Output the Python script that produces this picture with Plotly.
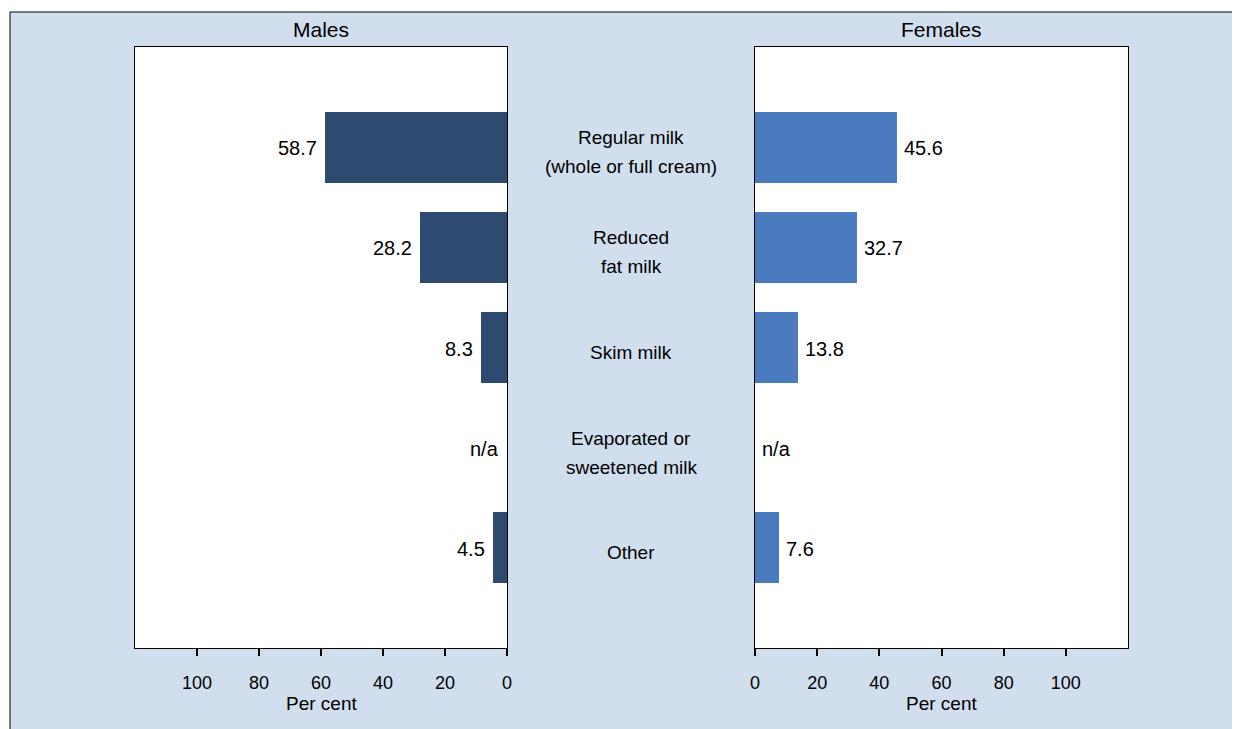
import plotly.graph_objects as go

categories = ["Regular milk<br>(whole or full cream)", "Reduced<br>fat milk", "Skim milk",
              "Evaporated or<br>sweetened milk", "Other"]
males = [58.7, 28.2, 8.3, None, 4.5]
females = [45.6, 32.7, 13.8, None, 7.6]
tick_vals = [0, 20, 40, 60, 80, 100]
tick_text = ["0", "20", "40", "60", "80", "100"]
panel_titles = ["Males", "Females"]
axis_title = "Per cent"

OFF = 8  # page body margin
W, H = 1240 - OFF, 729 - OFF
BG = "#d0deee"
MALE_C = "#2e4a70"
FEMALE_C = "#4a7bbf"
FONT = "Liberation Sans, Arial, sans-serif"

def px(x):
    return (x - OFF) / W

def py(y):
    return 1 - (y - OFF) / H

ypos = list(range(len(categories)))

fig = go.Figure()
fig.add_trace(go.Bar(x=males, y=ypos, orientation="h", width=0.71,
                     marker=dict(color=MALE_C, line=dict(width=0)),
                     xaxis="x", yaxis="y", hoverinfo="skip", showlegend=False))
fig.add_trace(go.Bar(x=females, y=ypos, orientation="h", width=0.71,
                     marker=dict(color=FEMALE_C, line=dict(width=0)),
                     xaxis="x2", yaxis="y2", hoverinfo="skip", showlegend=False))

ax_common = dict(showline=True, mirror=True, linecolor="black", linewidth=1,
                 showgrid=False, zeroline=False, ticks="outside", ticklen=7,
                 tickwidth=2, tickcolor="black", tickvals=tick_vals, ticktext=tick_text,
                 tickfont=dict(size=18, color="black", family=FONT),
                 automargin=False, fixedrange=True, ticklabelstandoff=11)
ay_common = dict(showline=True, mirror=True, linecolor="black", linewidth=1,
                 showgrid=False, zeroline=False, showticklabels=False, ticks="",
                 range=[len(categories), -1], automargin=False, fixedrange=True)

annotations = []
for title, xc in zip(panel_titles, [(135 + 507) / 2, (755 + 1128) / 2]):
    annotations.append(dict(text=title, x=px(xc), y=py(30), xref="paper", yref="paper",
                            showarrow=False, xanchor="center", yanchor="middle",
                            font=dict(size=21, color="black", family=FONT)))
    annotations.append(dict(text=axis_title, x=px(xc), y=py(703), xref="paper", yref="paper",
                            showarrow=False, xanchor="center", yanchor="middle",
                            font=dict(size=19, color="black", family=FONT)))

for i, v in enumerate(males):
    annotations.append(dict(text=("n/a" if v is None else f"{v:.1f}"),
                            x=(0 if v is None else v), y=i, xref="x", yref="y",
                            showarrow=False, xanchor="right", yanchor="middle", xshift=-6,
                            yshift=-1,
                            font=dict(size=20, color="black", family=FONT)))
for i, v in enumerate(females):
    annotations.append(dict(text=("n/a" if v is None else f"{v:.1f}"),
                            x=(0 if v is None else v), y=i, xref="x2", yref="y2",
                            showarrow=False, xanchor="left", yanchor="middle", xshift=5,
                            yshift=-1,
                            font=dict(size=20, color="black", family=FONT)))

mid_x = px((507 + 755) / 2)
for i, cat in enumerate(categories):
    lines = cat.split("<br>")
    n = len(lines)
    for j, line in enumerate(lines):
        shift = (j - (n - 1) / 2) * -29 - 5
        annotations.append(dict(text=line, x=mid_x, y=i, xref="paper", yref="y",
                                showarrow=False, xanchor="center", yanchor="middle",
                                yshift=shift,
                                font=dict(size=19, color="black", family=FONT)))

shapes = [
    dict(type="rect", xref="paper", yref="paper", x0=0, x1=1, y0=py(12), y1=1.0,
         fillcolor="white", line=dict(width=0), layer="below"),
    dict(type="rect", xref="paper", yref="paper", x0=0, x1=px(10), y0=0, y1=1.0,
         fillcolor="white", line=dict(width=0), layer="below"),
    dict(type="line", xref="paper", yref="paper", x0=px(10), x1=1, y0=py(12), y1=py(12),
         line=dict(color="black", width=1)),
    dict(type="line", xref="paper", yref="paper", x0=px(10), x1=px(10), y0=0, y1=py(12),
         line=dict(color="black", width=1)),
]

fig.update_layout(
    width=W, height=H,
    margin=dict(l=0, r=0, t=0, b=0),
    paper_bgcolor=BG, plot_bgcolor="white",
    template="none",
    font=dict(family=FONT, color="black"),
    xaxis=dict(domain=[px(135), px(507)], range=[120, 0], anchor="y", **ax_common),
    yaxis=dict(domain=[py(648), py(47)], anchor="x", **ay_common),
    xaxis2=dict(domain=[px(755), px(1128)], range=[0, 120], anchor="y2", **ax_common),
    yaxis2=dict(domain=[py(648), py(47)], anchor="x2", **ay_common),
    annotations=annotations,
    shapes=shapes,
    bargap=0,
)

fig.write_html("out.html")
